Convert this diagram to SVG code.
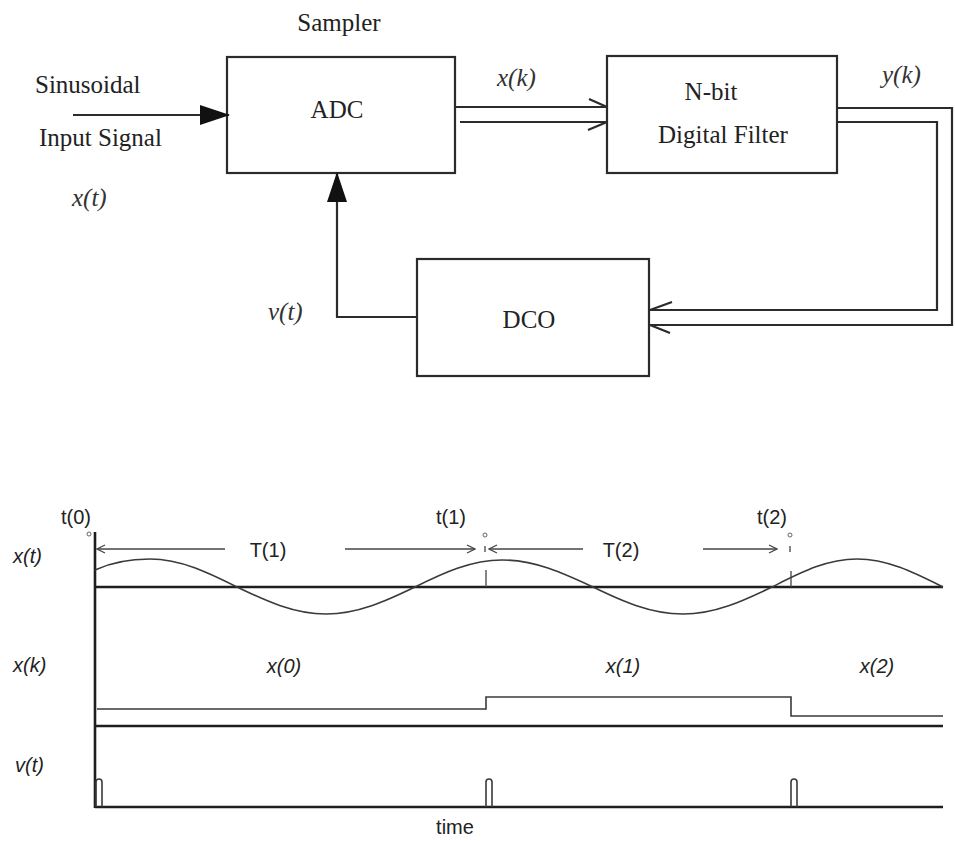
<svg xmlns="http://www.w3.org/2000/svg" width="955" height="841" viewBox="0 0 955 841">
  <style>
    .box { fill: #ffffff; stroke: #2b2b2b; stroke-width: 2.2; }
    .wire { fill: none; stroke: #2b2b2b; stroke-width: 2.2; }
    .serif { font-family: "Liberation Serif", "Times New Roman", serif; font-size: 25px; fill: #222; }
    .serif-i { font-family: "Liberation Serif", "Times New Roman", serif; font-size: 25px; font-style: italic; fill: #333; }
    .sans { font-family: "Liberation Sans", Arial, sans-serif; font-size: 20px; fill: #222; }
    .sans-i { font-family: "Liberation Sans", Arial, sans-serif; font-size: 20px; font-style: italic; fill: #222; }
    .axis { fill: none; stroke: #1e1e1e; stroke-width: 2.6; }
    .trace { fill: none; stroke: #3a3a3a; stroke-width: 1.6; }
    .thin { fill: none; stroke: #444; stroke-width: 1.3; }
    .mark { fill: none; stroke: #666; stroke-width: 1; }
  </style>
  <defs>
    <marker id="solid-arrow" markerUnits="userSpaceOnUse" viewBox="0 0 30 20" refX="29" refY="10" markerWidth="30" markerHeight="20" orient="auto">
      <path d="M0,0 L30,10 L0,20 Z" fill="#111"/>
    </marker>
    <marker id="open-tip" markerUnits="userSpaceOnUse" viewBox="0 0 10 10" refX="9" refY="5" markerWidth="10" markerHeight="10" orient="auto">
      <path d="M1,1 L9,5 L1,9" fill="none" stroke="#444" stroke-width="1.2"/>
    </marker>
  </defs>
  <rect width="955" height="841" fill="#ffffff"/>

  <!-- block diagram nodes -->
  <g id="node-adc">
    <rect class="box" x="227" y="57" width="228" height="116"/>
    <text class="serif" x="337" y="118" text-anchor="middle">ADC</text>
    <text class="serif" x="339" y="31" text-anchor="middle">Sampler</text>
  </g>
  <g id="node-filter">
    <rect class="box" x="607" y="56" width="230" height="117"/>
    <text class="serif" x="711" y="100" text-anchor="middle">N-bit</text>
    <text class="serif" x="723" y="143" text-anchor="middle">Digital Filter</text>
  </g>
  <g id="node-dco">
    <rect class="box" x="417" y="259" width="232" height="117"/>
    <text class="serif" x="529" y="328" text-anchor="middle">DCO</text>
  </g>
  <g id="node-input">
    <text class="serif" x="35" y="93">Sinusoidal</text>
    <text class="serif" x="39" y="146">Input Signal</text>
    <text class="serif-i" x="72" y="206">x(t)</text>
  </g>

  <!-- connectors -->
  <g id="connectors">
    <path class="wire" d="M73,115 H229" marker-end="url(#solid-arrow)"/>
    <path class="wire" d="M417,317 H337 V173" marker-end="url(#solid-arrow)"/>
    <text class="serif-i" x="268" y="320">v(t)</text>
    <!-- x(k) bus -->
    <path class="wire" d="M455,107 H607 M589,99 L607,107"/>
    <path class="wire" d="M460,122 H607 M588,130 L607,122"/>
    <text class="serif-i" x="497" y="86">x(k)</text>
    <!-- y(k) bus back to DCO -->
    <path class="wire" d="M837,108 H952 V325 H650 M670,333 L650,325"/>
    <path class="wire" d="M837,122 H937 V310 H650 M672,302 L650,310"/>
    <text class="serif-i" x="882" y="83">y(k)</text>
  </g>

  <!-- timing diagram -->
  <g id="timing">
    <line class="axis" x1="95" y1="532" x2="95" y2="808"/>
    <line class="axis" x1="95" y1="587" x2="943" y2="587"/>
    <line class="axis" x1="95" y1="726" x2="943" y2="726"/>
    <line class="axis" x1="95" y1="807" x2="943" y2="807"/>

    <text class="sans-i" x="13" y="563">x(t)</text>
    <text class="sans-i" x="13" y="672">x(k)</text>
    <text class="sans-i" x="15" y="772">v(t)</text>
    <text class="sans" x="455" y="834" text-anchor="middle">time</text>

    <!-- sample instants -->
    <text class="sans" x="76" y="524" text-anchor="middle">t(0)</text>
    <text class="sans" x="451" y="524" text-anchor="middle">t(1)</text>
    <text class="sans" x="772" y="524" text-anchor="middle">t(2)</text>
    <circle class="mark" cx="89" cy="534" r="2"/>
    <circle class="mark" cx="485" cy="535" r="2"/>
    <circle class="mark" cx="790" cy="535" r="2"/>
    <line class="thin" x1="485" y1="546" x2="485" y2="552"/>
    <line class="thin" x1="790" y1="546" x2="790" y2="552"/>
    <line class="thin" x1="486" y1="570" x2="486" y2="587"/>
    <line class="thin" x1="791" y1="571" x2="791" y2="587"/>

    <!-- period spans -->
    <path class="thin" d="M225,549 H97" marker-end="url(#open-tip)"/>
    <path class="thin" d="M345,549 H475" marker-end="url(#open-tip)"/>
    <path class="thin" d="M583,549 H489" marker-end="url(#open-tip)"/>
    <path class="thin" d="M703,549 H777" marker-end="url(#open-tip)"/>
    <text class="sans" x="268" y="557" text-anchor="middle">T(1)</text>
    <text class="sans" x="621" y="557" text-anchor="middle">T(2)</text>

    <!-- input sinusoid -->
    <path class="trace" d="M95,570 C110,563 130,559 150,559 C181,559 209,573 237,587 C266,601 294,614 326,614 C358,614 386,601 415,587 C443,573 471,560 502,560 C535,560 563,573 593,587 C622,601 650,614 683,614 C715,614 743,601 772,587 C800,573 826,559 857,559 C888,559 915,573 943,587"/>

    <!-- held samples -->
    <path class="trace" d="M97,709 H486 V697 H791 V716 H943"/>
    <text class="sans-i" x="284" y="673" text-anchor="middle">x(0)</text>
    <text class="sans-i" x="623" y="673" text-anchor="middle">x(1)</text>
    <text class="sans-i" x="877" y="673" text-anchor="middle">x(2)</text>

    <!-- DCO pulses -->
    <path class="trace" d="M96,807 V782 Q96,779 99,779 Q102,779 102,782 V807"/>
    <path class="trace" d="M486,807 V782 Q486,779 489,779 Q492,779 492,782 V807"/>
    <path class="trace" d="M791,807 V782 Q791,779 794,779 Q797,779 797,782 V807"/>
  </g>
</svg>
